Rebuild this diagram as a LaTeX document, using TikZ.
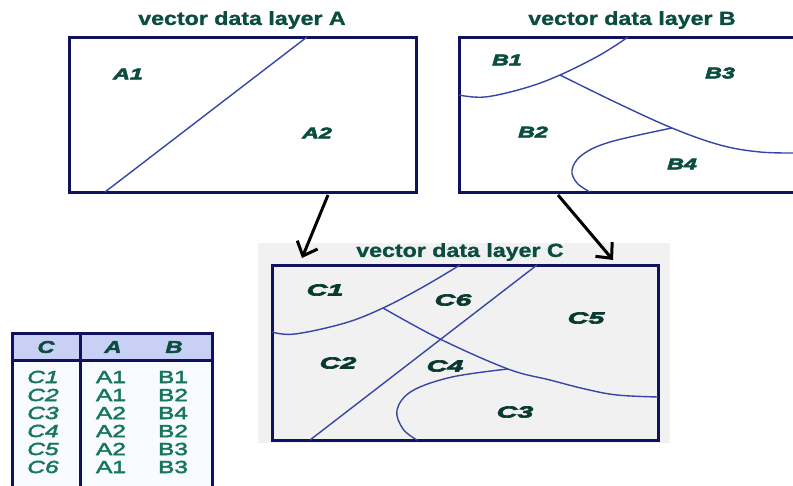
\documentclass[tikz,border=0pt]{standalone}
\usepackage{fontspec}
\setmainfont{Liberation Sans}
\newfontfamily\titlefont[FakeStretch=1.22,FakeBold=1.2]{Liberation Sans}
\newfontfamily\zonefont[FakeStretch=1.5,FakeBold=4]{Liberation Sans}
\newfontfamily\widezonefont[FakeStretch=1.8,FakeBold=4]{Liberation Sans}
\newfontfamily\tabfont[FakeStretch=1.4,FakeBold=2.6]{Liberation Sans}
\usetikzlibrary{arrows.meta}
\definecolor{framenavy}{HTML}{10115F}
\definecolor{edgeblue}{HTML}{3646A6}
\definecolor{labgreen}{HTML}{0B4E40}
\definecolor{darkgreen}{HTML}{083A30}
\definecolor{tabgreen}{HTML}{16775A}
\definecolor{panelgray}{HTML}{F1F1F1}
\definecolor{headfill}{HTML}{C8D0F5}
\definecolor{bodyfill}{HTML}{F8FBFF}
\begin{document}
\begin{tikzpicture}[x=1pt,y=-1pt,
  frame/.style={draw=framenavy,line width=3pt},
  edge/.style={draw=edgeblue,line width=1.4pt},
  layertitle/.style={text=labgreen,font=\titlefont\bfseries\fontsize{19}{20}\selectfont,inner sep=0pt},
  zone/.style={text=labgreen,font=\zonefont\bfseries\itshape\fontsize{15.5}{16}\selectfont,inner sep=0pt},
  czone/.style={text=darkgreen,font=\widezonefont\bfseries\itshape\fontsize{16}{16}\selectfont,inner sep=0pt},
  tabhead/.style={text=labgreen,font=\tabfont\bfseries\itshape\fontsize{17}{17}\selectfont,inner sep=0pt},
  tabcell/.style={text=tabgreen,font=\tabfont\fontsize{17.5}{18}\selectfont,inner sep=0pt},
  tabcellit/.style={text=tabgreen,font=\tabfont\itshape\fontsize{17.5}{18}\selectfont,inner sep=0pt},
  flow/.style={draw=black,line width=3pt,-{Straight Barb[length=12pt,width=22pt,line width=3pt]}}]
\useasboundingbox (0,0) rectangle (793,485);
\fill[white] (0,0) rectangle (793,485);

% ---------- layer A ----------
\node[layertitle] (titleA) at (242,20) {vector data layer A};
\draw[frame,fill=white] (69,37) rectangle (416,192);
\coordinate (boxA) at (328,195);
\draw[edge] (307,37) -- (105,192);
\node[zone] (A1) at (128,74) {A1};
\node[zone] (A2) at (317,133) {A2};

% ---------- layer B ----------
\node[layertitle] (titleB) at (632,20) {vector data layer B};
\draw[frame,fill=white] (459,37) rectangle (800,192);
\coordinate (boxB) at (558,195);
\draw[edge] plot[smooth,tension=0.6] coordinates {(459,95) (485,97) (525,88) (560,75) (600,55) (628,37)};
\draw[edge] plot[smooth,tension=0.6] coordinates {(560,75) (615,102) (672,128) (720,145) (760,152) (800,153)};
\draw[edge] plot[smooth,tension=0.6] coordinates {(672,128) (610,142) (582,155) (572,170) (577,183) (590,192)};
\node[zone] (B1) at (507,60) {B1};
\node[zone] (B3) at (720,73) {B3};
\node[zone] (B2) at (533,132) {B2};
\node[zone] (B4) at (682,164) {B4};

% ---------- layer C ----------
\fill[panelgray] (258,243) rectangle (670,443);
\node[layertitle] (titleC) at (460,252) {vector data layer C};
\draw[frame,fill=panelgray] (272,265) rectangle (658,440);
\coordinate (inC1) at (302,258);
\coordinate (inC2) at (613,260);
\draw[edge] (537,265) -- (310,440);
\draw[edge] plot[smooth,tension=0.6] coordinates {(272,332) (295,334) (345,323) (383,308) (423,287) (460,265)};
\draw[edge] plot[smooth,tension=0.6] coordinates {(383,308) (440,339) (508,369) (550,380) (585,389) (617,395) (658,397)};
\draw[edge] plot[smooth,tension=0.6] coordinates {(508,369) (452,377) (412,391) (397,410) (403,429) (417,440)};
\node[czone] (C1) at (325,290) {C1};
\node[czone] (C6) at (453,300) {C6};
\node[czone] (C5) at (586,318) {C5};
\node[czone] (C2) at (338,363) {C2};
\node[czone] (C4) at (445,366) {C4};
\node[czone] (C3) at (515,412) {C3};

% ---------- overlay arrows ----------
\draw[flow] (boxA) -- (inC1);
\draw[flow] (boxB) -- (inC2);

% ---------- attribute table ----------
\fill[bodyfill] (12,333) rectangle (212,490);
\fill[headfill] (12,333) rectangle (212,360);
\draw[frame] (12,490) -- (12,333) -- (212,333) -- (212,490);
\draw[frame] (12,360) -- (212,360);
\draw[frame] (80,333) -- (80,490);
\node[tabhead] (hC) at (46,347) {C};
\node[tabhead] (hA) at (113,347) {A};
\node[tabhead] (hB) at (174,347) {B};
\foreach \c/\a/\b [count=\i from 0] in {C1/A1/B1,C2/A1/B2,C3/A2/B4,C4/A2/B2,C5/A2/B3,C6/A1/B3}{
  \node[tabcellit] (tc\i) at (43,377+18*\i) {\c};
  \node[tabcell] (ta\i) at (111,377+18*\i) {\a};
  \node[tabcell] (tb\i) at (173,377+18*\i) {\b};
}
\end{tikzpicture}
\end{document}
